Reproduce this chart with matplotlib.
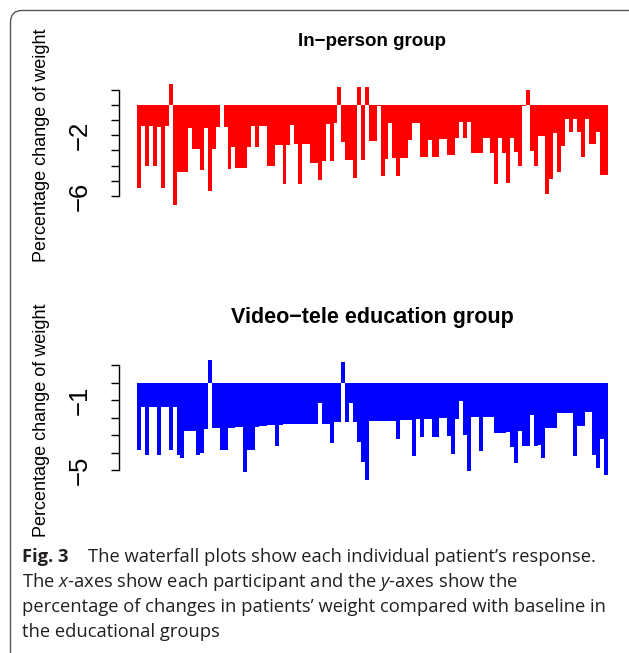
import numpy as np
import matplotlib
matplotlib.use("Agg")
from matplotlib import pyplot as plt
from matplotlib.patches import FancyBboxPatch

# percentage change of weight per participant
in_person = [-5.44, -1.4, -4.0, -1.4, -4.0, -1.45, -5.44, -1.4, 1.38, -6.6,
             -4.44, -4.44, -4.44, -1.5, -2.9, -2.9, -4.27, -1.5, -5.67, -2.9,
             -1.45, 0.0, -1.45, -4.2, -2.8, -4.16, -4.16, -4.16, -2.8, -1.4,
             -2.75, -1.4, -1.4, -4.0, -4.0, -2.67, -2.67, -5.2, -2.67, -1.33,
             -2.6, -5.2, -2.6, -2.6, -3.8, -3.8, -4.96, -3.7, -1.27, -3.67,
             -1.2, 1.18, -2.44, -3.6, -3.6, -4.8, 1.18, -3.6, 1.18, -2.4,
             -2.4, -0.07, -4.7, -3.55, -1.2, -3.5, -4.67, -3.5, -3.5, -2.33,
             -1.18, -1.18, -3.44, -3.44, -2.29, -3.4, -3.4, -2.24, -2.24, -3.27,
             -3.27, -2.16, -1.16, -2.18, -1.16, -3.2, -3.18, -3.18, -2.16, -2.16,
             -3.18, -5.2, -2.16, -3.18, -5.16, -2.16, -3.1, -4.0, -0.1, 0.98,
             -3.04, -4.0, -2.04, -2.04, -5.84, -4.89, -1.84, -4.44, -2.71, -0.96,
             -1.78, -0.96, -1.78, -3.44, -0.96, -2.6, -2.6, -1.78, -4.62, -4.62]

video_tele = [-3.88, -1.38, -4.12, -1.38, -1.38, -4.12, -1.38, -1.38, -3.88, -1.38,
              -4.12, -4.33, -2.79, -2.79, -2.75, -4.12, -4.04, -2.67, 1.31, -2.6,
              -2.6, -3.88, -3.88, -2.6, -2.6, -2.56, -2.56, -5.1, -3.85, -3.85,
              -2.54, -2.48, -2.48, -2.44, -2.44, -3.6, -2.4, -2.37, -2.37, -2.37,
              -2.35, -2.35, -2.35, -2.35, -2.35, -2.35, -1.19, -2.35, -2.35, -3.44,
              -2.25, -2.25, 1.17, -2.25, -1.19, -2.25, -3.4, -4.52, -5.58, -2.21,
              -2.21, -2.17, -2.17, -2.17, -2.17, -2.17, -3.21, -2.13, -2.13, -2.12,
              -4.17, -2.1, -3.13, -2.06, -2.06, -3.08, -3.08, -2.02, -2.02, -3.06,
              -4.08, -2.06, -1.06, -3.02, -5.04, -1.98, -1.98, -3.9, -1.94, -1.94,
              -1.94, -2.87, -2.87, -2.87, -2.83, -3.69, -4.58, -2.79, -3.63, -3.63,
              -1.83, -3.6, -3.55, -4.33, -2.6, -2.6, -2.6, -1.73, -1.73, -1.71,
              -1.71, -4.17, -2.5, -2.5, -1.69, -1.69, -4.13, -4.87, -3.25, -5.27]

titles = ["In\u2212person group", "Video\u2212tele education group"]
title_size = [13.5, 15.5]
colors = ["#ff0000", "#0000ff"]
ticks = [list(range(-6, 2)), list(range(-5, 2))]
shown = [[-6, -2], [-5, -1]]
ylab = "Percentage change of weight"

W, H = 629, 653
fig = plt.figure(figsize=(W / 100, H / 100), dpi=100)
fig.patch.set_facecolor("white")

# rounded frame round the figure + caption
frame = FancyBboxPatch((10.5 / W, -0.2), 1.2, 1.2 - 10.5 / H,
                       boxstyle="round,pad=0,rounding_size=0.018",
                       transform=fig.transFigure, fill=False,
                       edgecolor="#555555", linewidth=1.0, clip_on=False)
fig.patches.append(frame)

panels = [(79, 210, 42, 145), (355, 485, 317, 420)]
for k, vals in enumerate([in_person, video_tele]):
    top, bot, ty, ly = panels[k]
    ax = fig.add_axes([118.5 / W, 1 - bot / H, 508.5 / W, (bot - top) / H])
    n = len(vals)
    ax.bar(np.arange(n), vals, width=1.0, align="edge", color=colors[k],
           edgecolor="none", linewidth=0)
    lo, hi = min(vals), max(vals)
    pad = 0.04 * (hi - lo)
    ax.set_ylim(lo - pad, hi + pad)
    ax.set_xlim(-0.04 * n, 1.04 * n)
    for s in ["top", "right", "bottom"]:
        ax.spines[s].set_visible(False)
    ax.spines["left"].set_bounds(ticks[k][0], ticks[k][-1])
    ax.spines["left"].set_linewidth(1.0)
    ax.set_xticks([])
    ax.set_yticks(ticks[k])
    ax.set_yticklabels(["\u2212%d" % abs(t) if t in shown[k] else "" for t in ticks[k]],
                       rotation=90, va="center", fontsize=18.5, family="Liberation Sans")
    ax.tick_params(axis="y", length=6, width=1.0, pad=13)
    fig.text(372 / W, 1 - ty / H, titles[k], ha="center", va="center",
             fontsize=title_size[k], fontweight="bold", family="Liberation Sans")
    fig.text(42 / W, 1 - ly / H, ylab, rotation=90, ha="center", va="center",
             fontsize=13, family="Liberation Sans")

# caption
plt.rcParams["mathtext.fontset"] = "custom"
plt.rcParams["mathtext.it"] = "Open Sans:italic"
plt.rcParams["mathtext.rm"] = "Open Sans"
cap = dict(fontsize=13.2, family="Open Sans", color="#231f20", va="center", ha="left")
fig.text(22 / W, 1 - 557 / H, "Fig. 3", fontweight="bold", **cap)
fig.text(88 / W, 1 - 557 / H, "The waterfall plots show each individual patient\u2019s response.", **cap)
fig.text(22 / W, 1 - 582 / H, r"The $x$-axes show each participant and the $y$-axes show the", **cap)
fig.text(22 / W, 1 - 607 / H, "percentage of changes in patients\u2019 weight compared with baseline in", **cap)
fig.text(22 / W, 1 - 632 / H, "the educational groups", **cap)

fig.savefig("out.png", dpi=100)
